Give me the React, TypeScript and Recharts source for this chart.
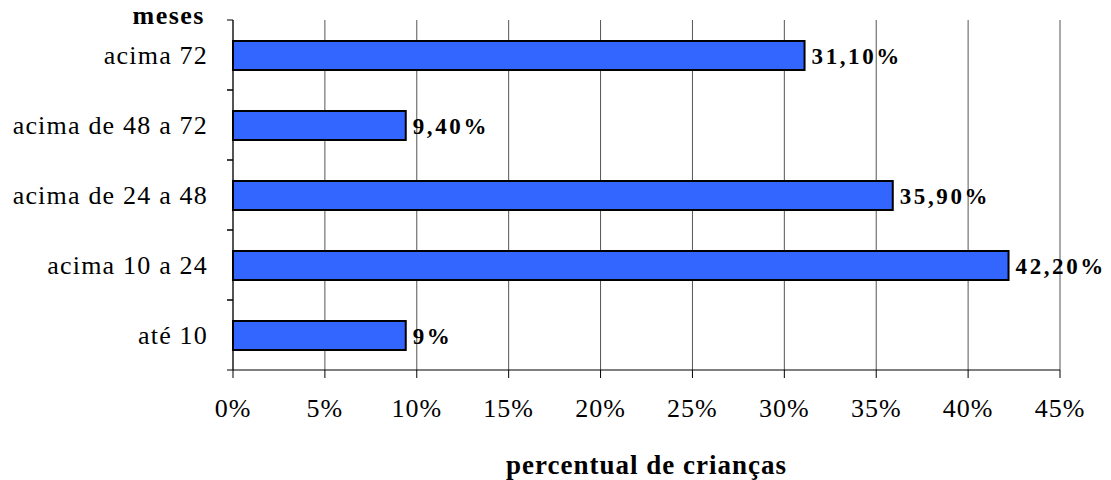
import { Bar, BarChart, CartesianGrid, LabelList, XAxis, YAxis } from 'recharts';

const categories = ['acima 72', 'acima de 48 a 72', 'acima de 24 a 48', 'acima 10 a 24', 'até 10'];
const percentValues = [31.1, 9.4, 35.9, 42.2, 9.4];
const valueLabels = ['31,10%', '9,40%', '35,90%', '42,20%', '9%'];
const xTicks = [0, 5, 10, 15, 20, 25, 30, 35, 40, 45];

const FONT = '"Liberation Serif", "Times New Roman", serif';
const BAND = 70;

const chartData = categories.map((name, i) => ({
  name,
  value: percentValues[i],
  label: valueLabels[i],
}));

function CategoryTick(props: any) {
  const { x, y, payload } = props;
  const half = BAND / 2;
  return (
    <g>
      <line x1={x - 6} x2={x} y1={y - half} y2={y - half} stroke="#000" strokeWidth={1} />
      <line x1={x - 6} x2={x} y1={y + half} y2={y + half} stroke="#000" strokeWidth={1} />
      <text x={x - 25} y={y} textAnchor="end" dominantBaseline="central" fontSize={26} letterSpacing={1.2} fill="#000" fontFamily={FONT}>
        {payload.value}
      </text>
    </g>
  );
}

export default function App() {
  return (
    <div style={{ position: 'absolute', left: 0, top: 0, width: 1111, height: 480, background: '#fff', fontFamily: FONT }}>
      <div style={{ position: 'absolute', left: 0, top: 1, width: 205, textAlign: 'right', fontSize: 26, letterSpacing: 1.5, fontWeight: 'bold', color: '#000' }}>
        meses
      </div>
      <BarChart
        width={1111}
        height={480}
        data={chartData}
        layout="vertical"
        margin={{ top: 20, right: 51, bottom: 0, left: 0 }}
      >
        <CartesianGrid horizontal={false} stroke="#555" />
        <XAxis
          type="number"
          domain={[0, 45]}
          ticks={xTicks}
          interval={0}
          tickFormatter={(v: number) => `${v}%`}
          height={110}
          axisLine={{ stroke: '#000' }}
          tickLine={{ stroke: '#000' }}
          tickSize={8}
          tickMargin={21}
          tick={{ fill: '#000', fontSize: 26, letterSpacing: 1, fontFamily: FONT }}
          label={{ value: 'percentual de crianças', position: 'insideBottom', offset: 6, fill: '#000', fontSize: 27, letterSpacing: 1, fontWeight: 'bold', fontFamily: FONT }}
        />
        <YAxis
          type="category"
          dataKey="name"
          width={233}
          axisLine={{ stroke: '#000' }}
          tickLine={false}
          tickSize={0}
          tickMargin={0}
          interval={0}
          tick={<CategoryTick />}
        />
        <Bar dataKey="value" fill="#3366FF" stroke="#000" strokeWidth={2} barSize={29} isAnimationActive={false}>
          <LabelList dataKey="label" position="right" offset={7} fill="#000" fontSize={23} letterSpacing={2.6} fontWeight="bold" fontFamily={FONT} />
        </Bar>
      </BarChart>
    </div>
  );
}
